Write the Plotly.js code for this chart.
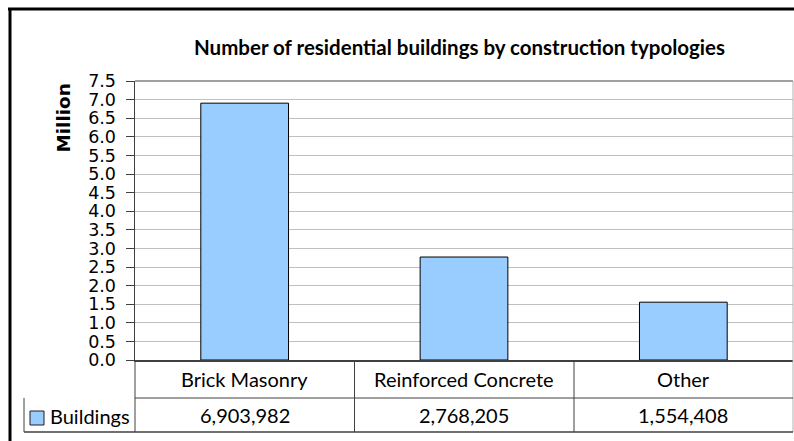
<!DOCTYPE html>
<html>
<head>
<meta charset="utf-8">
<script src="https://cdn.plot.ly/plotly-3.0.1.min.js"></script>
<style>html,body{margin:0;padding:0;background:#fff;}#chart{width:794px;height:441px;}</style>
</head>
<body>
<div id="chart"></div>
<script>
const categories = ["Brick Masonry", "Reinforced Concrete", "Other"];
const buildings = [6903982, 2768205, 1554408];
const seriesName = "Buildings";
const chartTitle = "Number of residential buildings by construction typologies";
const yTitle = "Million";

const W = 794, H = 441;
const L = 135, R = 793, T = 81, B = 360;
const px = v => (v - L) / (R - L);
const py = v => (B - v) / (B - T);

const lineCol = '#404040';
const shapes = [];
function hline(x0, x1, y, color, w) {
  shapes.push({type:'line', xref:'paper', yref:'paper', x0:px(x0), x1:px(x1), y0:py(y), y1:py(y), line:{color:color, width:w}});
}
function vline(x, y0, y1, color, w) {
  shapes.push({type:'line', xref:'paper', yref:'paper', x0:px(x), x1:px(x), y0:py(y0), y1:py(y1), line:{color:color, width:w}});
}
// outer frame
hline(8, 800, 9, '#000', 3);
vline(10, 8, 445, '#000', 3);
// plot top border and right
hline(L, R, T, '#808080', 1.5);
vline(R, T, 432, '#b0b0b0', 1);
// table
hline(L, R, 398, lineCol, 1);
hline(24, R, 432, lineCol, 1.5);
vline(L, 360, 432, lineCol, 1);
vline(24, 398, 432, lineCol, 1);
vline(354.5, 360, 432, lineCol, 1);
vline(574, 360, 432, lineCol, 1);
// legend key
shapes.push({type:'rect', xref:'paper', yref:'paper', x0:px(30), x1:px(44), y0:py(425), y1:py(411), fillcolor:'#99CCFF', line:{color:'#202020', width:1}});

const tableFont = {family:'Lato, "Open Sans", sans-serif', size:20, color:'#000'};
const annotations = [];
categories.forEach((c, i) => {
  annotations.push({xref:'x', yref:'paper', x:c, y:py(379), text:c, showarrow:false, xanchor:'center', yanchor:'middle', font:tableFont});
  annotations.push({xref:'x', yref:'paper', x:c, y:py(415), text:buildings[i].toLocaleString('en-US'), showarrow:false, xanchor:'center', yanchor:'middle', font:tableFont});
});
annotations.push({xref:'paper', yref:'paper', x:px(48), y:py(416), text:seriesName, showarrow:false, xanchor:'left', yanchor:'middle', font:tableFont});
annotations.push({xref:'paper', yref:'paper', x:px(63), y:py(118.5), text:'<b>'+yTitle+'</b>', textangle:-90, showarrow:false, xanchor:'center', yanchor:'middle', font:{family:'"DejaVu Sans", sans-serif', size:18.4, color:'#000'}});

const trace = {
  type:'bar', x:categories, y:buildings.map(v => v/1e6), name:seriesName,
  width:0.4, marker:{color:'#99CCFF', line:{color:'#000', width:1}}, hoverinfo:'none'
};

const layout = {
  width:W, height:H, margin:{l:L, r:W-R, t:T, b:H-B, pad:0},
  paper_bgcolor:'#fff', plot_bgcolor:'#fff', showlegend:false,
  title:{text:'<b>'+chartTitle+'</b>', x:459.5/W, xanchor:'center', y:1-48/H, yanchor:'middle', yref:'container', font:{family:'Lato, sans-serif', size:20.5, color:'#000'}},
  xaxis:{type:'category', range:[-0.5, 2.5], showticklabels:false, ticks:'', showline:true, linecolor:lineCol, linewidth:1.5, showgrid:false, zeroline:false, fixedrange:true},
  yaxis:{range:[0, 7.5], dtick:0.5, tick0:0, tickformat:'.1f', ticks:'outside', ticklen:8, tickcolor:lineCol, tickwidth:1,
    showline:true, linecolor:lineCol, linewidth:1.5, showgrid:true, gridcolor:'#c0c0c0', gridwidth:1, zeroline:false,
    tickfont:{family:'"DejaVu Sans", sans-serif', size:17.5, color:'#000'}, ticklabelstandoff:6, fixedrange:true},
  shapes:shapes, annotations:annotations
};

Plotly.newPlot('chart', [trace], layout, {displayModeBar:false, staticPlot:true});
</script>
</body>
</html>
